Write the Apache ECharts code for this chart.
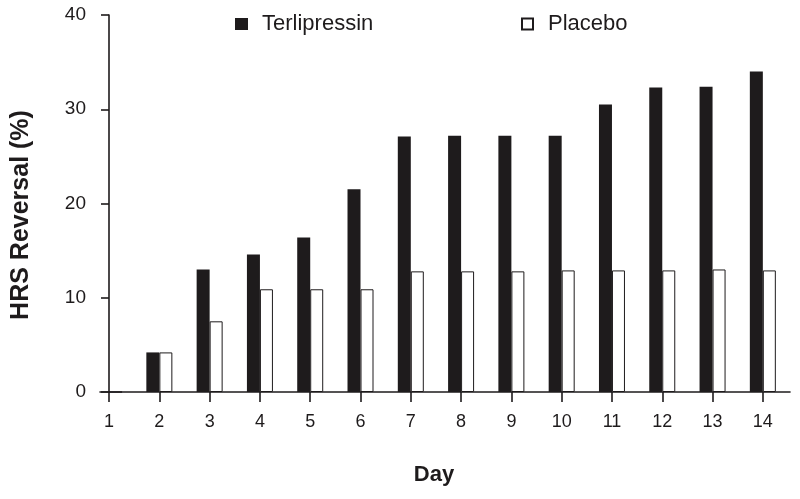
<!DOCTYPE html>
<html>
<head>
<meta charset="utf-8">
<script src="https://cdn.jsdelivr.net/npm/echarts@6/dist/echarts.min.js"></script>
<style>
  html, body { margin: 0; padding: 0; background: #ffffff; }
  #chart { width: 800px; height: 499px; }
</style>
</head>
<body>
<div id="chart"></div>
<script>
const days = [1, 2, 3, 4, 5, 6, 7, 8, 9, 10, 11, 12, 13, 14];
const terlipressin = [0, 4.2, 13.0, 14.6, 16.4, 21.5, 27.1, 27.2, 27.2, 27.2, 30.5, 32.3, 32.4, 34.0];
const placebo = [0, 4.2, 7.5, 10.9, 10.9, 10.9, 12.8, 12.8, 12.8, 12.9, 12.9, 12.9, 13.0, 12.9];
const yTicks = [0, 10, 20, 30, 40];

const FONT = '"Liberation Sans", Arial, Helvetica, sans-serif';
const INK = '#1e1b1c';

const chart = echarts.init(document.getElementById('chart'), null, { renderer: 'canvas' });

chart.setOption({
  backgroundColor: '#ffffff',
  animation: false,
  textStyle: { fontFamily: FONT, color: INK },
  grid: { left: 100, right: 10, top: 15, bottom: 107, containLabel: false },
  legend: [
    {
      data: ['Terlipressin'],
      left: 230, top: 8,
      icon: 'rect', itemWidth: 13, itemHeight: 12,
      textStyle: { fontFamily: FONT, fontSize: 22, color: INK, padding: [0, 0, 0, 9] }
    },
    {
      data: ['Placebo'],
      left: 516, top: 8,
      icon: 'rect', itemWidth: 11, itemHeight: 11,
      textStyle: { fontFamily: FONT, fontSize: 22, color: INK, padding: [0, 0, 0, 10] }
    }
  ],
  xAxis: {
    type: 'value',
    min: 0.82,
    max: 14.54,
    interval: 1,
    splitLine: { show: false },
    axisLine: { show: true, lineStyle: { color: INK, width: 1.6 } },
    axisTick: { show: true, length: 10, lineStyle: { color: INK, width: 1.6 }, customValues: days },
    axisLabel: { fontFamily: FONT, fontSize: 18, color: INK, margin: 21, customValues: days },
    name: 'Day',
    nameLocation: 'middle',
    nameGap: 72,
    nameTextStyle: { fontFamily: FONT, fontSize: 22, fontWeight: 'bold', color: INK, padding: [0, 22, 0, 0] }
  },
  yAxis: {
    type: 'value',
    min: 0,
    max: 40,
    interval: 10,
    offset: -9,
    splitLine: { show: false },
    axisLine: { show: true, lineStyle: { color: INK, width: 1.6 } },
    axisTick: { show: true, length: 8, lineStyle: { color: INK, width: 1.6 }, customValues: yTicks },
    axisLabel: { fontFamily: FONT, fontSize: 19, color: INK, margin: 23, customValues: yTicks },
    name: 'HRS Reversal (%)',
    nameLocation: 'middle',
    nameGap: 75,
    nameTextStyle: { fontFamily: FONT, fontSize: 25, fontWeight: 'bold', color: INK, padding: [0, 23, 0, 0] }
  },
  series: [
    {
      name: 'Terlipressin',
      type: 'bar',
      data: days.map((d, i) => [d, terlipressin[i]]),
      barWidth: 13,
      barGap: '0%',
      itemStyle: { color: INK }
    },
    {
      name: 'Placebo',
      type: 'bar',
      data: days.map((d, i) => [d, placebo[i]]),
      barWidth: 13,
      barGap: '0%',
      itemStyle: { color: '#ffffff', borderColor: INK, borderWidth: 1 }
    }
  ]
});
</script>
</body>
</html>
